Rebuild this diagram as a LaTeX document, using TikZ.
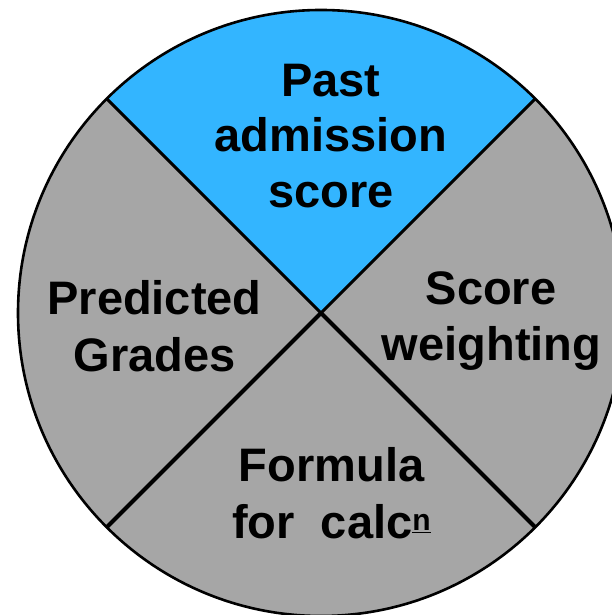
\documentclass[tikz,border=0pt]{standalone}
\usepackage{fontspec}
\usetikzlibrary{calc}
\setmainfont{Liberation Sans}
\definecolor{wedgeblue}{RGB}{51,181,255}
\definecolor{wedgegray}{RGB}{166,166,166}
\tikzset{
  lbl/.style={anchor=base, inner sep=0pt, font=\fontsize{47}{56}\selectfont\bfseries},
  divider/.style={draw=black, line width=3pt},
  rim/.style={draw=black, line width=2.6pt}
}
\begin{document}
\begin{tikzpicture}[x=1pt,y=1pt]
\useasboundingbox (0,0) rectangle (612,615);
\clip (0,0) rectangle (612,615);
\coordinate (c) at (321,302);
\def\R{303}
% wedges
\fill[wedgegray] (c) circle[radius=\R];
\fill[wedgeblue] (c) -- ++(45:\R) arc[start angle=45, end angle=135, radius=\R] -- cycle;
\coordinate (ur) at ($(c)+(45:\R)$);
\coordinate (ul) at ($(c)+(135:\R)$);
\coordinate (ll) at ($(c)+(225:\R)$);
\coordinate (lr) at ($(c)+(315:\R)$);
\draw[divider] (c) -- (ul);
\draw[divider] (c) -- (ur);
\draw[divider, line width=4.2pt] (c) -- (ll);
\draw[divider, line width=4.2pt] (c) -- (lr);
\draw[rim] (c) circle[radius=\R];
% labels
\node[lbl] (p1) at (331,518.3) {Past};
\node[lbl] (p2) at (331,463) {admission};
\node[lbl] (p3) at (331,407) {score};
\node[lbl] (g1) at (154.5,300) {Predicted};
\node[lbl] (g2) at (154.5,243.5) {Grades};
\node[lbl] (s1) at (491,310) {Score};
\node[lbl] (s2) at (491.5,254.5) {weighting};
\node[lbl] (f1) at (331.5,133.3) {Formula};
\node[lbl] (f2) at (331.5,76) {for\ \ calc\raisebox{8pt}{\fontsize{30}{30}\selectfont\underline{n}}};
\end{tikzpicture}
\end{document}
